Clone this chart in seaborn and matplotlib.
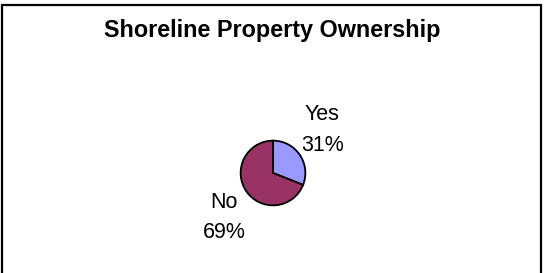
import matplotlib
matplotlib.use("Agg")
import matplotlib.pyplot as plt
import seaborn as sns
from matplotlib.patches import Rectangle

# chart data
categories = ["Yes", "No"]
shares = [31, 69]
slice_colors = ["#9999FF", "#993366"]
title = "Shoreline Property Ownership"

sns.set_style("white")
plt.rcParams["font.family"] = ["Liberation Sans", "DejaVu Sans"]
plt.rcParams["text.color"] = "black"

W, H = 545, 273
fig = plt.figure(figsize=(W / 100, H / 100), dpi=100)
fig.patch.set_facecolor("white")

# outer chart-area border (bottom edge falls outside the picture)
fig.patches.append(Rectangle((2 / W, -0.05), 539 / W, 1.05 - 5 / H,
                             transform=fig.transFigure, fill=False,
                             edgecolor="black", linewidth=1.6))

fig.text(0.5, 1 - 31 / H, title, ha="center", va="center",
         fontsize=16.8, fontweight="bold", color="black")

# pie centred at (273, 173) px, radius 33 px
r = 33
cx, cy = 273, H - 173
ax = fig.add_axes([(cx - r) / W, (cy - r) / H, 2 * r / W, 2 * r / H])
wedges, _ = ax.pie(shares, colors=slice_colors, startangle=90,
                   counterclock=False, radius=1,
                   wedgeprops=dict(edgecolor="black", linewidth=1.3))
ax.set_xlim(-1.02, 1.02)
ax.set_ylim(-1.02, 1.02)
ax.set_aspect("equal")
ax.axis("off")

label_offsets = {"Yes": (1.52, 1.32), "No": (-1.52, -1.38)}
for name, val in zip(categories, shares):
    x, y = label_offsets[name]
    ax.text(x, y, f"{name}\n{val}%", ha="center", va="center",
            fontsize=15.5, linespacing=1.6, color="black", clip_on=False)

fig.savefig("out.png", dpi=100, facecolor="white")
